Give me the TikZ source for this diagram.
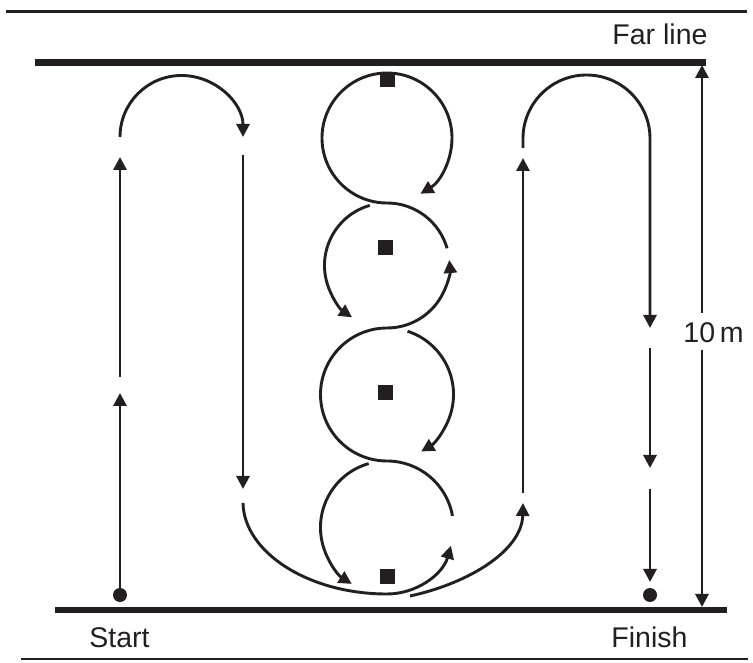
\documentclass[tikz,border=0pt]{standalone}
\usepackage{fontspec}
\setmainfont{Liberation Sans}
\usetikzlibrary{arrows.meta}
\definecolor{ink}{HTML}{231F20}
\begin{document}
\begin{tikzpicture}[x=1pt,y=1pt,
  track/.style={draw=ink, line width=2.9pt},
  arr/.style={track, -{Triangle[length=13pt,width=13pt]}},
  bar/.style={draw=ink, line width=6.8pt},
  rule/.style={draw=ink, line width=2.4pt},
  cone/.style={rectangle, fill=ink, minimum size=15pt, inner sep=0pt},
  spot/.style={circle, fill=ink, minimum size=14pt, inner sep=0pt},
  lbl/.style={font=\fontsize{28.5}{30}\selectfont, text=ink, inner sep=0pt, anchor=base}]
\useasboundingbox (0,0) rectangle (753,662);

% frame rules and bars
\draw[rule] (6,650.5) -- (747,650.5);
\draw[rule] (21,3) -- (748,3);
\draw[bar] (35,599.5) -- (706,599.5);
\draw[bar] (55,52) -- (727,52);

% labels
\node[lbl] (far) at (660,617) {Far line};
\node[lbl] (start) at (119.5,15) {Start};
\node[lbl] (finish) at (649.5,15) {Finish};
\node[lbl] (ten) at (713.5,319) {10\,m};

% dots and cones
\node[spot] (sdot) at (120,67) {};
\node[spot] (fdot) at (650,67) {};
\node[cone] (q1) at (387,582) {};
\node[cone] (q2) at (385,414) {};
\node[cone] (q3) at (385,269) {};
\node[cone] (q4) at (387,85) {};

% circle centres
\coordinate (C1) at (387,524);
\coordinate (C2) at (387,396.5);
\coordinate (C3) at (387,267.5);
\coordinate (C4) at (387,134.5);

% left track
\coordinate (a1) at (120,269);
\coordinate (a2) at (120,285);
\coordinate (a3) at (120,505);
\coordinate (a4) at (120,525);
\draw[arr] (sdot.center) -- (a1);
\draw[arr] (a2) -- (a3);
\draw[arr] (a4) arc[start angle=180, end angle=0, radius=61.5];
\coordinate (b1) at (243,507);
\coordinate (b2) at (243,173);
\coordinate (b3) at (243,159);
\coordinate (c4b) at (387,68);
\draw[arr] (b1) -- (b2);
\draw[arr] (b3) .. controls (244,110) and (308,68) .. (c4b)
  arc[start angle=270, end angle=344, radius=66.5];

% weave round the cones
\draw[arr] ([shift={(10:66.5)}]C4) arc[start angle=10, end angle=90, radius=66.5]
  arc[start angle=270, end angle=90, radius=66.5]
  arc[start angle=270, end angle=365, radius=62.5];
\draw[arr] ([shift={(16:62.5)}]C2) arc[start angle=16, end angle=90, radius=62.5]
  arc[start angle=270, end angle=-59, radius=65];
\draw[arr] ([shift={(106:62.5)}]C2) arc[start angle=106, end angle=236, radius=62.5];
\draw[arr] ([shift={(72:66.5)}]C3) arc[start angle=72, end angle=-59, radius=66.5];
\draw[arr] ([shift={(106:66.5)}]C4) arc[start angle=106, end angle=238, radius=66.5];

% right track
\coordinate (p7s) at (410,66);
\coordinate (d1) at (523,159);
\coordinate (d2) at (523,169);
\coordinate (d3) at (523,504);
\coordinate (d4) at (523,514);
\coordinate (d5) at (650,334);
\coordinate (d6) at (650,314);
\coordinate (d7) at (650,194);
\coordinate (d8) at (650,173);
\coordinate (d9) at (650,80);
\draw[arr] (p7s) .. controls (470,79) and (522,112) .. (d1);
\draw[arr] (d2) -- (d3);
\draw[arr] (d4) -- ++(0,9.5) arc[start angle=180, end angle=0, radius=63.5] -- (d5);
\draw[arr] (d6) -- (d7);
\draw[arr] (d8) -- (d9);

% 10 m dimension
\coordinate (dimtop) at (702,597);
\coordinate (dimbot) at (702,55);
\coordinate (dimu) at (702,349);
\coordinate (diml) at (702,312);
\draw[arr] (dimu) -- (dimtop);
\draw[arr] (diml) -- (dimbot);
\end{tikzpicture}
\end{document}
